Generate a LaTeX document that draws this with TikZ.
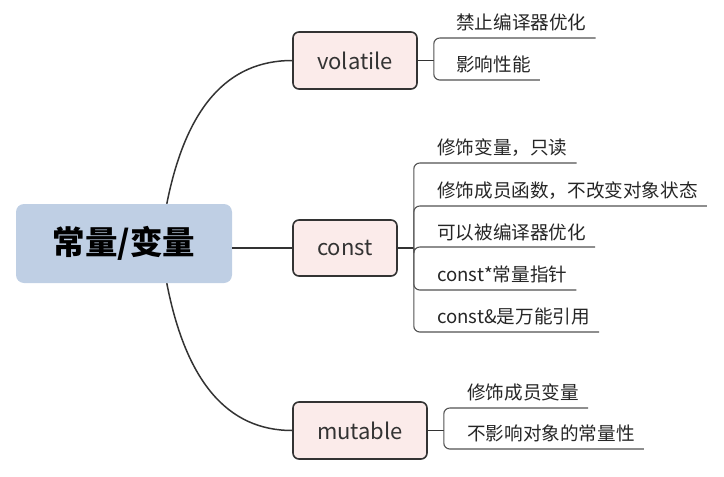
\documentclass[tikz,border=0pt]{standalone}
\usepackage{fontspec}
\setmainfont{Noto Sans CJK SC}
\usetikzlibrary{positioning,calc}
\definecolor{rootblue}{HTML}{BFCFE4}
\definecolor{branchpink}{HTML}{FBEBEA}
\definecolor{linegray}{HTML}{333333}

\begin{document}
\begin{tikzpicture}[x=1pt,y=-1pt]
    \tikzstyle{root}=[fill=rootblue,rounded corners=8,minimum width=216,minimum height=79,inner sep=0,font=\fontsize{32.5}{32.5}\selectfont\bfseries]
    \tikzstyle{branch}=[fill=branchpink,draw=linegray,line width=1.6,rounded corners=6,minimum height=57,inner sep=0,text=linegray,font=\fontsize{22}{22}\selectfont]
    \tikzstyle{leaf}=[anchor=base west,inner sep=0,text=black!85,font=\fontsize{18.6}{18.6}\selectfont]
    \tikzstyle{link}=[draw=linegray,line width=1.5]
    \tikzstyle{under}=[draw=linegray!85,line width=1.1,rounded corners=6]
    {
        \useasboundingbox (0,0) rectangle (724,477);

        % main nodes
        \node[root] (root) at (124,243.5) {常量/变量};
        \node[branch,minimum width=124] (vol) at (355,60.5) {volatile};
        \node[branch,minimum width=104,minimum height=56] (con) at (345,248) {const};
        \node[branch,minimum width=134] (mut) at (360,430.5) {mutable};

        \coordinate (rt) at ($(root.north west)+(151,0)$);
        \coordinate (rb) at ($(root.south west)+(151,0)$);

        \draw[link] (rt) .. controls +(19,-96) and +(-65,0) .. (vol.west);
        \draw[link] (root.east |- con.west) -- (con.west);
        \draw[link] (rb) .. controls +(19,98) and +(-65,0) .. (mut.west);

        % volatile
        \coordinate (jv) at ($(vol.east)+(16,0)$);
        \draw[link] (vol.east) -- (jv);
        \node[leaf] (v1) at (456,29) {禁止编译器优化};
        \node[leaf] (v2) at (456,71) {影响性能};
        \draw[under] (jv) |- ($(v1.base east)+(9,9)$);
        \draw[under] (jv) |- ($(v2.base east)+(9,9)$);

        % const
        \coordinate (jc) at ($(con.east)+(16,0)$);
        \draw[link] (con.east) -- (jc);
        \node[leaf] (c1) at (437,154) {修饰变量，只读};
        \node[leaf] (c2) at (437,197) {修饰成员函数，不改变对象状态};
        \node[leaf] (c3) at (437,239) {可以被编译器优化};
        \node[leaf] (c4) at (437,281) {const*常量指针};
        \node[leaf] (c5) at (437,323) {const\&是万能引用};
        \draw[under] (jc) |- ($(c1.base east)+(9,9)$);
        \draw[under] (jc) |- ($(c2.base east)+(9,9)$);
        \draw[under] (jc) |- ($(c3.base east)+(9,8)$);
        \draw[under] (jc) |- ($(c4.base east)+(9,9)$);
        \draw[under] (jc) |- ($(c5.base east)+(9,9)$);

        % mutable
        \coordinate (jm) at ($(mut.east)+(16,0)$);
        \draw[link] (mut.east) -- (jm);
        \node[leaf] (m1) at (467,399) {修饰成员变量};
        \node[leaf] (m2) at (467,440) {不影响对象的常量性};
        \draw[under] (jm) |- ($(m1.base east)+(9,9)$);
        \draw[under] (jm) |- ($(m2.base east)+(9,9)$);
    }
\end{tikzpicture}
\end{document}
